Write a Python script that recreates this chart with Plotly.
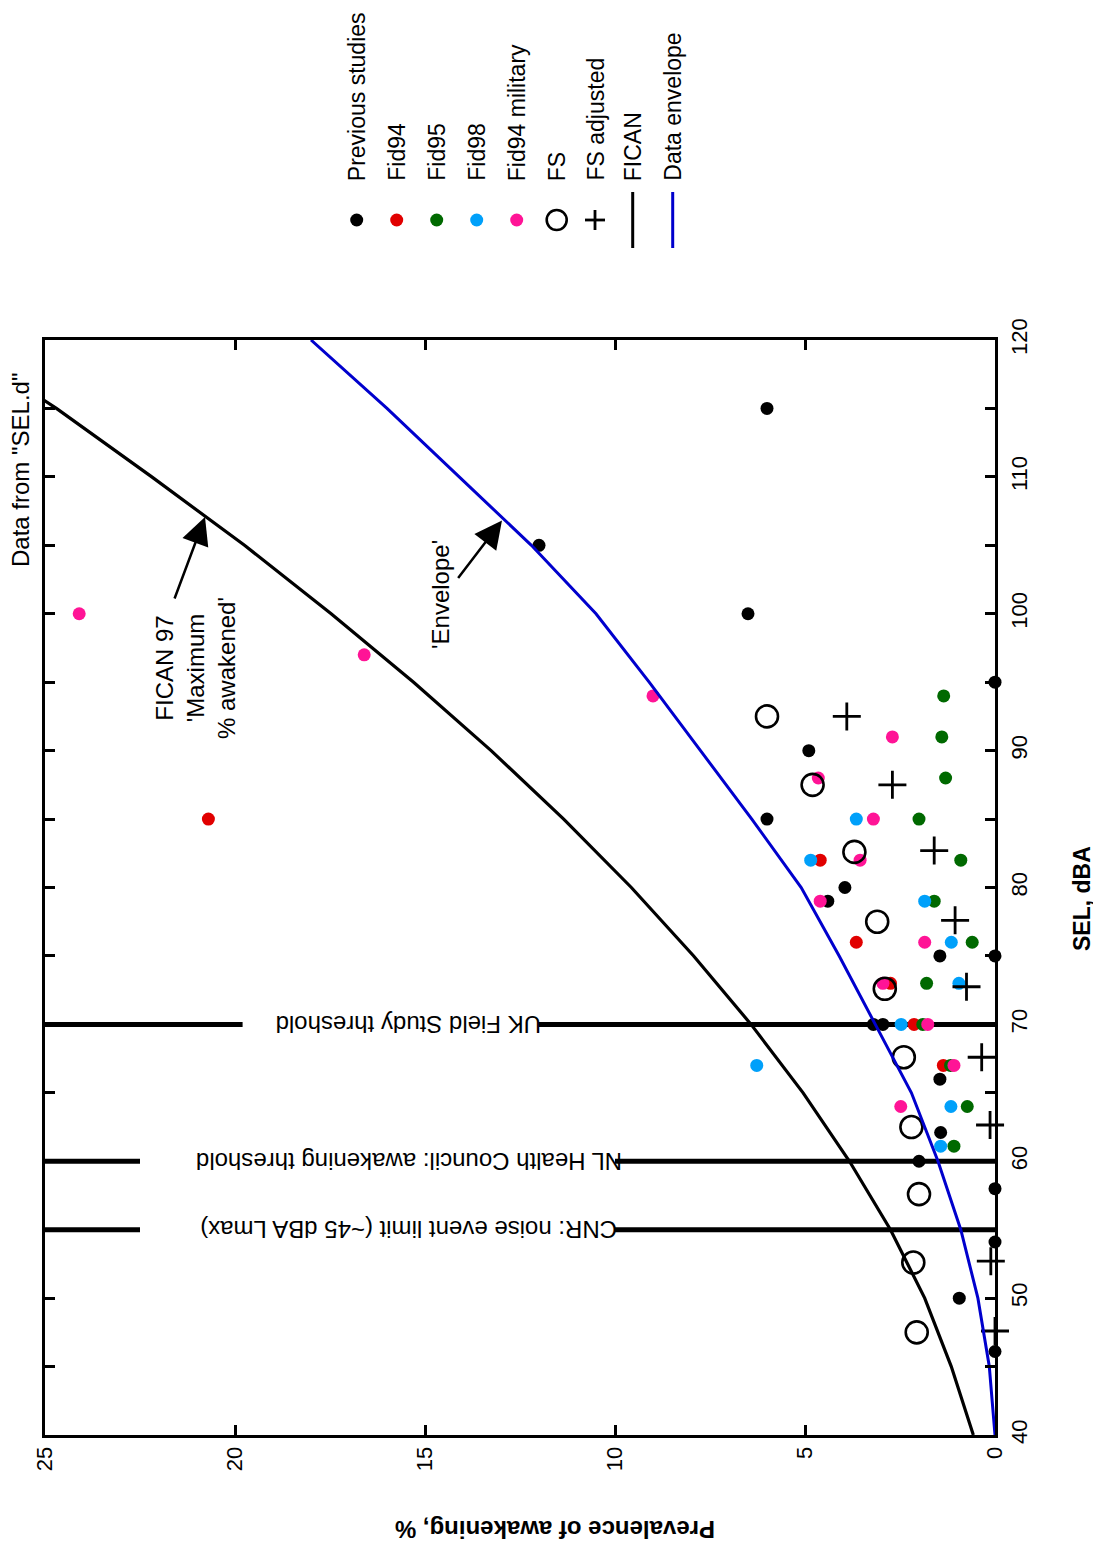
import plotly.graph_objects as go

# ---------------- data ----------------
sel_ticks = list(range(40, 125, 5))
sel_ticktext = [str(v) if v % 10 == 0 else "" for v in sel_ticks]
prev_ticks = [0, 5, 10, 15, 20, 25]
prev_ticktext = ["0", "5", "10", "15", "20", "25"]

# Previous studies (black dots)
prevstud_sel = [115, 100, 105, 95, 90, 85, 80, 79, 75, 75, 70, 70, 66, 62.1, 60, 58, 54.1, 50, 46.1]
prevstud_pct = [6.0, 6.5, 12.0, 0.0, 4.9, 6.0, 3.95, 4.4, 1.45, 0.0, 3.2, 2.95, 1.45, 1.43, 2.0, 0.0, 0.0, 0.94, 0.0]

# Fid94 (red)
fid94_sel = [85, 82, 76, 73, 70, 67]
fid94_pct = [20.7, 4.6, 3.65, 2.75, 2.13, 1.36]

# Fid95 (green)
fid95_sel = [94, 91, 88, 85, 82, 79, 76, 73, 70, 67, 64, 61.1]
fid95_pct = [1.35, 1.4, 1.3, 2.0, 0.9, 1.6, 0.6, 1.8, 1.9, 1.17, 0.73, 1.08]

# Fid98 (blue)
fid98_sel = [85, 82, 79, 76, 73, 70, 67, 64, 61.1]
fid98_pct = [3.65, 4.85, 1.85, 1.15, 0.95, 2.47, 6.27, 1.16, 1.43]

# Fid94 military (pink)
fid94m_sel = [100, 97, 94, 91, 88, 85, 82, 79, 76, 73, 70, 67, 64]
fid94m_pct = [24.1, 16.6, 9.0, 2.7, 4.65, 3.2, 3.55, 4.6, 1.85, 2.95, 1.77, 1.08, 2.48]

# FS (open circles)
fs_sel = [92.5, 87.5, 82.6, 77.5, 72.6, 67.6, 62.5, 57.6, 52.6, 47.5]
fs_pct = [6.0, 4.8, 3.7, 3.1, 2.9, 2.4, 2.2, 2.0, 2.15, 2.06]

# FS adjusted (+)
fsadj_sel = [92.5, 87.5, 82.7, 77.6, 72.75, 67.6, 62.65, 52.7, 47.6]
fsadj_pct = [3.9, 2.7, 1.6, 1.05, 0.75, 0.35, 0.13, 0.11, 0.0]

# FICAN curve
fican_sel = [40, 45, 50, 55, 60, 65, 70, 75, 80, 85, 90, 95, 100, 105, 110, 115, 120]
fican_pct = [0.57, 1.15, 1.85, 2.75, 3.83, 5.05, 6.42, 7.93, 9.57, 11.35, 13.26, 15.3, 17.47, 19.75, 22.19, 24.7, 27.4]

# Data envelope
env_sel = [40, 45, 50, 55, 60, 65, 70, 75, 80, 85, 90, 95, 100, 105, 110, 115, 120]
env_pct = [0.0, 0.15, 0.45, 0.9, 1.5, 2.2, 3.15, 4.1, 5.1, 6.4, 7.75, 9.1, 10.5, 12.2, 14.1, 16.0, 18.0]

# Threshold lines
thr_sel = [55, 60, 70]
thr_labels = ["CNR: noise event limit (~45 dBA Lmax)",
              "NL Health Council: awakening threshold",
              "UK Field Study threshold"]

legend_names = ["Previous studies", "Fid94", "Fid95", "Fid98", "Fid94 military",
                "FS", "FS adjusted", "FICAN", "Data envelope"]

# ---------------- layout geometry (page pixels) ----------------
OFF = 8                      # page body margin
PAGE_W, PAGE_H = 1101, 1549
W, H = PAGE_W - OFF, PAGE_H - OFF
L, R, T, B = 45, 995, 340, 1435   # plot area in page pixels
XMIN, XMAX = 25, 0       # prevalence, left -> right
YMIN, YMAX = 40, 120     # SEL, bottom -> top


def px2paper_x(px):
    return (px - L) / (R - L)


def px2paper_y(py):
    return (B - py) / (B - T)


def px2pct(px):
    return XMIN + (px - L) / (R - L) * (XMAX - XMIN)


def py2sel(py):
    return YMIN + (B - py) / (B - T) * (YMAX - YMIN)


FONT = "Liberation Sans, Arial, sans-serif"
TXT = 24
LEG_TXT = 23
RED = "rgb(225,0,0)"
GREEN = "rgb(0,105,0)"
BLUE = "rgb(0,160,250)"
PINK = "rgb(255,20,150)"
ENV = "rgb(0,0,205)"

fig = go.Figure()

# threshold lines (segments around the labels)
thr_segments = [((25, 22.5), (10.0, 0)), ((25, 22.5), (10.0, 0)), ((25, 19.8), (12.0, 0))]
for s, seg in zip(thr_sel, thr_segments):
    (a0, a1), (b0, b1) = seg
    fig.add_trace(go.Scatter(x=[a0, a1, None, b0, b1], y=[s, s, None, s, s], mode="lines",
                             line=dict(color="black", width=5), showlegend=False,
                             hoverinfo="skip"))

dot = 13
series = [
    (prevstud_pct, prevstud_sel, "black"),
    (fid94_pct, fid94_sel, RED),
    (fid95_pct, fid95_sel, GREEN),
    (fid98_pct, fid98_sel, BLUE),
    (fid94m_pct, fid94m_sel, PINK),
]
for (xv, yv, c), name in zip(series, legend_names[:5]):
    fig.add_trace(go.Scatter(x=xv, y=yv, mode="markers", name=name, cliponaxis=False,
                             marker=dict(symbol="circle", size=dot, color=c, line=dict(width=0)),
                             showlegend=False))

fig.add_trace(go.Scatter(x=fs_pct, y=fs_sel, mode="markers", name="FS", cliponaxis=False,
                         marker=dict(symbol="circle-open", size=22, color="black", line=dict(width=2.6)),
                         showlegend=False))
fig.add_trace(go.Scatter(x=fsadj_pct, y=fsadj_sel, mode="markers", name="FS adjusted", cliponaxis=False,
                         marker=dict(symbol="cross-thin-open", size=20, color="black",
                                     line=dict(width=2.8, color="black")),
                         showlegend=False))

fig.add_trace(go.Scatter(x=fican_pct, y=fican_sel, mode="lines", name="FICAN",
                         line=dict(color="black", width=3.2), showlegend=False))
fig.add_trace(go.Scatter(x=env_pct, y=env_sel, mode="lines", name="Data envelope",
                         line=dict(color=ENV, width=3), showlegend=False))

# ---------------- legend (rotated, drawn in paper space) ----------------
leg_marker_py = 220
leg_x_px = [356.7, 396.7, 436.7, 476.7, 516.7, 556.7, 595.0, 632.7, 672.7]
leg_colors = ["black", RED, GREEN, BLUE, PINK]
shapes = []
for i, c in enumerate(leg_colors):
    shapes.append(dict(type="circle", xref="paper", yref="paper", xsizemode="pixel", ysizemode="pixel",
                       xanchor=px2paper_x(leg_x_px[i]), yanchor=px2paper_y(leg_marker_py),
                       x0=-6.5, x1=6.5, y0=-6.5, y1=6.5, fillcolor=c, line=dict(width=0)))
shapes.append(dict(type="circle", xref="paper", yref="paper", xsizemode="pixel", ysizemode="pixel",
                   xanchor=px2paper_x(leg_x_px[5]), yanchor=px2paper_y(leg_marker_py),
                   x0=-10, x1=10, y0=-10, y1=10, line=dict(width=2.6, color="black")))
shapes.append(dict(type="line", xref="paper", yref="paper", xsizemode="pixel", ysizemode="pixel",
                   xanchor=px2paper_x(leg_x_px[6]), yanchor=px2paper_y(leg_marker_py),
                   x0=-10, x1=10, y0=0, y1=0, line=dict(width=2.8, color="black")))
shapes.append(dict(type="line", xref="paper", yref="paper", xsizemode="pixel", ysizemode="pixel",
                   xanchor=px2paper_x(leg_x_px[6]), yanchor=px2paper_y(leg_marker_py),
                   x0=0, x1=0, y0=-10, y1=10, line=dict(width=2.8, color="black")))
for xp, col in [(leg_x_px[7], "black"), (leg_x_px[8], ENV)]:
    shapes.append(dict(type="line", xref="paper", yref="paper",
                       x0=px2paper_x(xp), x1=px2paper_x(xp),
                       y0=px2paper_y(192), y1=px2paper_y(248),
                       line=dict(color=col, width=3)))

annotations = []
for xp, name in zip(leg_x_px, legend_names):
    annotations.append(dict(xref="paper", yref="paper", x=px2paper_x(xp), y=px2paper_y(183),
                            xanchor="center", yanchor="bottom", text=name, textangle=-90,
                            showarrow=False, font=dict(family=FONT, size=LEG_TXT, color="black")))

# threshold labels (upside down)
for s, lab in zip(thr_sel, thr_labels):
    annotations.append(dict(xref="x", yref="y", x=px2pct(409), y=s, xanchor="center", yanchor="middle",
                            text=lab, textangle=180, showarrow=False,
                            font=dict(family=FONT, size=TXT, color="black")))

# "Data from SEL.d"
annotations.append(dict(xref="paper", yref="paper", x=px2paper_x(20), y=px2paper_y(470),
                        xanchor="center", yanchor="middle", text='Data from "SEL.d"', textangle=-90,
                        showarrow=False, font=dict(family=FONT, size=TXT, color="black")))

# FICAN 97 label
annotations.append(dict(xref="paper", yref="paper", x=px2paper_x(195), y=px2paper_y(668),
                        xanchor="center", yanchor="middle", align="center",
                        text="FICAN 97<br>'Maximum<br>% awakened'", textangle=-90,
                        showarrow=False, font=dict(family=FONT, size=TXT, color="black")))
# FICAN arrow
annotations.append(dict(xref="x", yref="y", x=px2pct(205), y=py2sel(517), text="",
                        showarrow=True, arrowhead=2, arrowsize=2.2, arrowwidth=2.5, arrowcolor="black",
                        ax=-31, ay=83))
# Envelope label + arrow
annotations.append(dict(xref="paper", yref="paper", x=px2paper_x(440), y=px2paper_y(595),
                        xanchor="center", yanchor="middle", text="'Envelope'", textangle=-90,
                        showarrow=False, font=dict(family=FONT, size=TXT, color="black")))
annotations.append(dict(xref="x", yref="y", x=px2pct(502), y=py2sel(520.5), text="",
                        showarrow=True, arrowhead=2, arrowsize=2.2, arrowwidth=2.5, arrowcolor="black",
                        ax=-45, ay=59))

# axis titles
annotations.append(dict(xref="paper", yref="paper", x=px2paper_x(1082), y=px2paper_y(899),
                        xanchor="center", yanchor="middle", text="<b>SEL, dBA</b>", textangle=-90,
                        showarrow=False, font=dict(family=FONT, size=23, color="black")))
annotations.append(dict(xref="paper", yref="paper", x=px2paper_x(555), y=px2paper_y(1530),
                        xanchor="center", yanchor="middle", text="<b>Prevalence of awakening, %</b>",
                        textangle=180, showarrow=False, font=dict(family=FONT, size=24, color="black")))

fig.update_layout(
    width=W, height=H,
    margin=dict(l=L - OFF, r=W - (R - OFF), t=T - OFF, b=H - (B - OFF), pad=0),
    paper_bgcolor="white", plot_bgcolor="white",
    showlegend=False,
    shapes=shapes,
    annotations=annotations,
    font=dict(family=FONT, color="black"),
    xaxis=dict(range=[XMIN, XMAX], tickvals=prev_ticks, ticktext=prev_ticktext, tickangle=-90,
               ticks="inside", ticklen=10, tickwidth=2.5, tickcolor="black",
               showline=True, linewidth=3, linecolor="black", mirror="ticks",
               showgrid=False, zeroline=False, tickfont=dict(family=FONT, size=22, color="black")),
    yaxis=dict(range=[YMIN, YMAX], side="right", tickvals=sel_ticks, ticktext=sel_ticktext, tickangle=-90,
               ticks="inside", ticklen=10, tickwidth=2.5, tickcolor="black", ticklabelstandoff=3,
               showline=True, linewidth=3, linecolor="black", mirror="ticks",
               showgrid=False, zeroline=False, tickfont=dict(family=FONT, size=22, color="black")),
)

fig.write_html("out.html")
